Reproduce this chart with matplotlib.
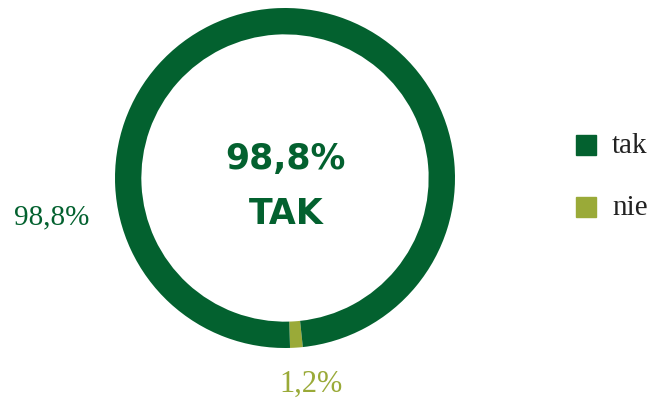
#!/usr/bin/env python3
import matplotlib
matplotlib.use("Agg")
import matplotlib.pyplot as plt

labels = ["nie", "tak"]
values = [1.2, 98.8]
colors = ["#9aaa38", "#03612f"]

W, H = 651, 400


def fx(px):
    return px / W


def fy(py):
    return 1 - py / H


def pct(v):
    return f"{v:.1f}%".replace(".", ",")


fig = plt.figure(figsize=(W / 100, H / 100), dpi=100)
ax = fig.add_axes([fx(115), fy(348), 340 / W, 340 / H])
ax.pie(
    values,
    colors=colors,
    startangle=-88.3,
    counterclock=True,
    radius=1.0,
    wedgeprops={"width": 0.155, "linewidth": 0},
)
ax.set_xlim(-1, 1)
ax.set_ylim(-1, 1)
ax.set_aspect("equal")
ax.axis("off")

dark, light = colors[1], colors[0]
serif = "Liberation Serif"

# centre caption
fig.text(fx(285), fy(159), pct(values[1]), ha="center", va="center",
         fontsize=25, fontweight="bold", color=dark, family="DejaVu Sans")
fig.text(fx(286), fy(214), labels[1].upper(), ha="center", va="center",
         fontsize=25, fontweight="bold", color=dark, family="DejaVu Sans")

# slice labels
fig.text(fx(52), fy(217), pct(values[1]), ha="center", va="center",
         fontsize=21, color=dark, family=serif)
fig.text(fx(311), fy(384), pct(values[0]), ha="center", va="center",
         fontsize=22, color=light, family=serif)

# legend
for i, (lab, col) in enumerate(zip(labels[::-1], colors[::-1])):
    yc = 145 + i * 62
    fig.patches.append(plt.Rectangle((fx(576), fy(yc + 10)), 20 / W, 20 / H,
                                     transform=fig.transFigure, color=col))
    fig.text(fx(612), fy(yc + 1), lab, ha="left", va="center",
             fontsize=21, color="#222222", family=serif)

fig.savefig("out.png", dpi=100)
